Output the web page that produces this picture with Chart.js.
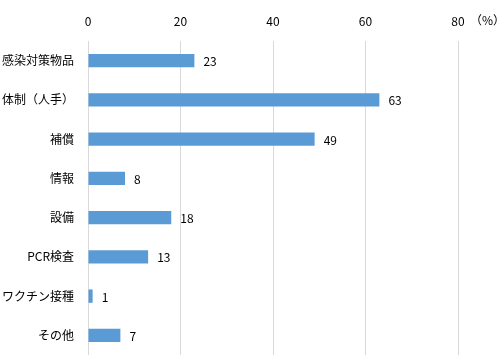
<!DOCTYPE html>
<html>
<head>
<meta charset="utf-8">
<script src="https://cdn.jsdelivr.net/npm/chart.js@4"></script>
<style>
    html, body { margin: 0; padding: 0; background: #fff; overflow: hidden; }
    canvas { display: block; }
</style>
</head>
<body>
<canvas id="chart_canvas" width="498" height="355"></canvas>
<script>
// values (percent)
const categories = ['感染対策物品', '体制（人手）', '補償', '情報', '設備', 'PCR検査', 'ワクチン接種', 'その他'];
const values = [23, 63, 49, 8, 18, 13, 1, 7];
const xTicks = [0, 20, 40, 60, 80];
const unitLabel = '（%）';

const fontFamily = "'Noto Sans CJK JP', 'Noto Sans', sans-serif";

// value labels to the right of each bar
const barLabels = {
    id: 'barLabels',
    afterDatasetsDraw(chart) {
        const ctx = chart.ctx;
        const meta = chart.getDatasetMeta(0);
        ctx.save();
        ctx.font = `12px ${fontFamily}`;
        ctx.fillStyle = '#000';
        ctx.textAlign = 'left';
        ctx.textBaseline = 'middle';
        meta.data.forEach((bar, i) => {
            ctx.fillText(values[i], bar.x + 9, bar.y + 1);
        });
        ctx.restore();
    }
};

// "(%)" after the last tick
const unitText = {
    id: 'unitText',
    afterDraw(chart) {
        const ctx = chart.ctx;
        const x = chart.scales.x.getPixelForValue(80);
        ctx.save();
        ctx.font = `12px ${fontFamily}`;
        ctx.fillStyle = '#000';
        ctx.textAlign = 'left';
        ctx.textBaseline = 'middle';
        ctx.fillText(unitLabel, x + 12, 20);
        ctx.restore();
    }
};

const ctx = document.getElementById('chart_canvas').getContext('2d');
const chart = new Chart(ctx, {
    type: 'bar',
    data: {
        labels: categories,
        datasets: [{
            data: values,
            backgroundColor: '#5B9BD5',
            borderWidth: 0,
            categoryPercentage: 1,
            barPercentage: 0.34
        }]
    },
    options: {
        indexAxis: 'y',
        responsive: false,
        animation: false,
        layout: { padding: { left: 0, right: 40, top: 0, bottom: 0 } },
        plugins: {
            legend: { display: false },
            tooltip: { enabled: false }
        },
        scales: {
            x: {
                position: 'top',
                min: 0,
                max: 80,
                afterBuildTicks: (axis) => {
                    axis.ticks = xTicks.map(v => ({ value: v }));
                },
                afterFit: (axis) => {
                    axis.height = 41;
                    axis.paddingLeft = 0;
                    axis.paddingRight = 0;
                },
                grid: { color: '#d9d9d9', drawTicks: false, lineWidth: 1 },
                border: { display: false },
                ticks: {
                    padding: 12,
                    color: '#000',
                    font: { family: fontFamily, size: 12 }
                }
            },
            y: {
                afterFit: (axis) => {
                    axis.width = 88;
                    axis.paddingTop = 0;
                    axis.paddingBottom = 0;
                },
                grid: { display: false, drawTicks: false },
                border: { display: false },
                ticks: {
                    padding: 14,
                    color: '#000',
                    font: { family: fontFamily, size: 12 }
                }
            }
        }
    },
    plugins: [barLabels, unitText]
});
</script>
</body>
</html>
